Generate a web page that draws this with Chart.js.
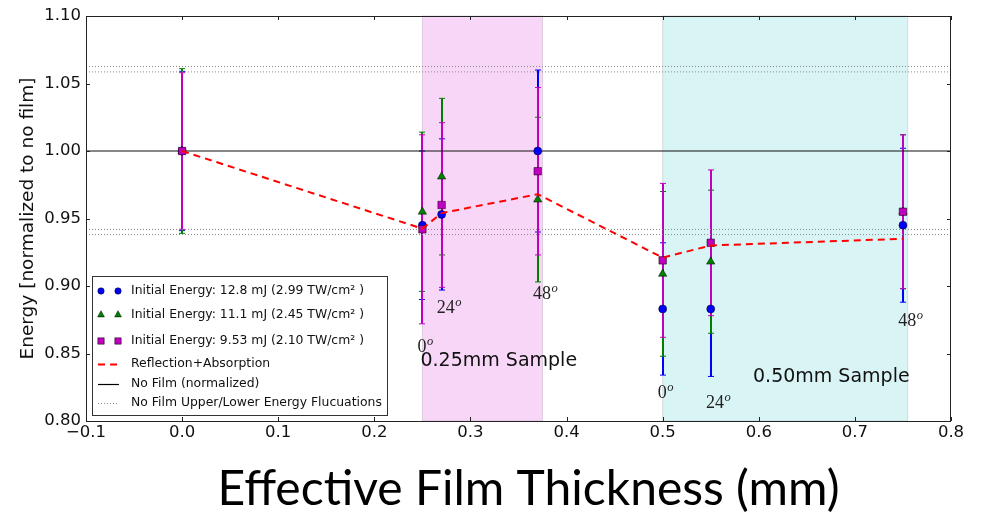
<!DOCTYPE html>
<html>
<head>
<meta charset="utf-8">
<script src="https://cdn.jsdelivr.net/npm/chart.js@4.4.1/dist/chart.umd.min.js"></script>
<style>
  html, body { margin: 0; background: #fff; }
  canvas { display: block; }
</style>
</head>
<body>
<canvas id="energyChart" width="986" height="513"></canvas>
<script>
// Effective film thickness (mm) of each shot
const thickness = [0, 0.25, 0.27, 0.37, 0.5, 0.55, 0.75];

// Normalized transmitted energy and its error for each initial energy
const energyHigh = [1.000, 0.945, 0.953, 1.000, 0.883, 0.883, 0.945];
const errHigh    = [0.059, 0.055, 0.056, 0.060, 0.049, 0.050, 0.057];
const energyMid  = [1.000, 0.955, 0.981, 0.964, 0.909, 0.918, 0.955];
const errMid     = [0.061, 0.059, 0.058, 0.061, 0.061, 0.053, 0.057];
const energyLow  = [1.000, 0.942, 0.960, 0.985, 0.919, 0.932, 0.955];
const errLow     = [0.058, 0.070, 0.061, 0.062, 0.057, 0.054, 0.057];

// Reflection + absorption model
const reflAbs = [1.000, 0.9425, 0.954, 0.968, 0.921, 0.930, 0.935];

// No-film reference level and its upper/lower fluctuation bands
const noFilm = 1.0;
const noFilmBounds = [1.0626, 1.0586, 0.9419, 0.9381];

// Sample regions
const sampleSpans = [[0.25, 0.375], [0.5, 0.755]];
const sampleNames = ['0.25mm Sample', '0.50mm Sample'];
const sampleNamePos = [[0.248, 0.841], [0.594, 0.829]];

// Incidence angle annotations (degrees)
const angleLabels = ['0', '24', '48', '0', '24', '48'];
const anglePos = [[0.245, 0.851], [0.265, 0.880], [0.365, 0.8907],
                  [0.495, 0.8167], [0.545, 0.810], [0.745, 0.8707]];

// Axis ticks
const xTicks = [-0.1, 0, 0.1, 0.2, 0.3, 0.4, 0.5, 0.6, 0.7, 0.8];
const xTickLabels = ['\u22120.1', '0.0', '0.1', '0.2', '0.3', '0.4', '0.5', '0.6', '0.7', '0.8'];
const yTicks = [0.80, 0.85, 0.90, 0.95, 1.00, 1.05, 1.10];
const yTickLabels = ['0.80', '0.85', '0.90', '0.95', '1.00', '1.05', '1.10'];

const seriesNames = [
    'Initial Energy: 12.8 mJ (2.99 TW/cm\u00b2 )',
    'Initial Energy: 11.1 mJ (2.45 TW/cm\u00b2 )',
    'Initial Energy: 9.53 mJ (2.10 TW/cm\u00b2 )',
    'Reflection+Absorption',
    'No Film (normalized)',
    'No Film Upper/Lower Energy Flucuations'
];

const BLUE = '#0000ff';
const GREEN = '#007f00';
const MAGENTA = '#bf00bf';
const RED = '#ff0000';
const SANS = '"DejaVu Sans", sans-serif';

const toPoints = (ys) => thickness.map((x, i) => ({ x: x, y: ys[i] }));
const hline = (v) => [{ x: -0.1, y: v }, { x: 0.8, y: v }];

// Shaded sample regions + error bars, drawn under the datasets
const underlay = {
    id: 'underlay',
    beforeDatasetsDraw(chart) {
        const { ctx, chartArea: ca, scales: { x, y } } = chart;
        ctx.save();
        const fills = ['rgba(204, 0, 204, 0.16)', 'rgba(0, 178, 187, 0.15)'];
        sampleSpans.forEach(([a, b], i) => {
            const l = x.getPixelForValue(a), r = x.getPixelForValue(b);
            ctx.fillStyle = fills[i];
            ctx.fillRect(l, ca.top, r - l, ca.bottom - ca.top);
            ctx.strokeStyle = 'rgba(0,0,0,0.12)';
            ctx.lineWidth = 1;
            ctx.strokeRect(l, ca.top, r - l, ca.bottom - ca.top);
        });

        const sets = [[energyHigh, errHigh, BLUE], [energyMid, errMid, GREEN], [energyLow, errLow, MAGENTA]];
        sets.forEach(([vals, errs, color]) => {
            ctx.strokeStyle = color;
            thickness.forEach((t, i) => {
                const px = Math.round(x.getPixelForValue(t));
                const top = y.getPixelForValue(vals[i] + errs[i]);
                const bot = y.getPixelForValue(vals[i] - errs[i]);
                ctx.lineWidth = 2;
                ctx.beginPath();
                ctx.moveTo(px, top);
                ctx.lineTo(px, bot);
                ctx.stroke();
                ctx.lineWidth = 1;
                ctx.beginPath();
                ctx.moveTo(px - 3, top); ctx.lineTo(px + 3, top);
                ctx.moveTo(px - 3, bot); ctx.lineTo(px + 3, bot);
                ctx.stroke();
            });
        });
        ctx.restore();
    }
};

function drawMarker(ctx, style, cx, cy, color) {
    ctx.fillStyle = color;
    ctx.strokeStyle = '#000';
    ctx.lineWidth = 0.5;
    ctx.beginPath();
    if (style === 'circle') {
        ctx.arc(cx, cy, 3.2, 0, Math.PI * 2);
    } else if (style === 'triangle') {
        ctx.moveTo(cx, cy - 3.6);
        ctx.lineTo(cx + 3.4, cy + 2.6);
        ctx.lineTo(cx - 3.4, cy + 2.6);
        ctx.closePath();
    } else {
        ctx.rect(cx - 3.2, cy - 3.2, 6.4, 6.4);
    }
    ctx.fill();
    ctx.stroke();
}

// Frame, inward ticks, annotations and legend
const overlay = {
    id: 'overlay',
    afterDatasetsDraw(chart) {
        const { ctx, chartArea: ca, scales: { x, y } } = chart;
        ctx.save();

        // text annotations
        ctx.fillStyle = '#222';
        ctx.textBaseline = 'alphabetic';
        ctx.textAlign = 'left';
        anglePos.forEach(([ax, ay], i) => {
            const px = x.getPixelForValue(ax), py = y.getPixelForValue(ay);
            ctx.font = '18px "Liberation Serif", serif';
            ctx.fillText(angleLabels[i], px, py);
            const w = ctx.measureText(angleLabels[i]).width;
            ctx.font = 'italic 12.5px "Liberation Serif", serif';
            ctx.fillText('o', px + w + 0.5, py - 7);
        });
        ctx.fillStyle = '#111';
        ctx.font = '19px ' + SANS;
        sampleNamePos.forEach(([sx, sy], i) => {
            ctx.fillText(sampleNames[i], x.getPixelForValue(sx), y.getPixelForValue(sy));
        });

        // axes frame
        ctx.strokeStyle = '#222';
        ctx.lineWidth = 1;
        ctx.strokeRect(ca.left + 0.5, ca.top + 0.5, ca.right - ca.left - 1, ca.bottom - ca.top);

        // inward tick marks on all four sides
        ctx.beginPath();
        xTicks.forEach(v => {
            const px = Math.round(x.getPixelForValue(v)) + 0.5;
            ctx.moveTo(px, ca.bottom); ctx.lineTo(px, ca.bottom - 4);
            ctx.moveTo(px, ca.top); ctx.lineTo(px, ca.top + 4);
        });
        yTicks.forEach(v => {
            const py = Math.round(y.getPixelForValue(v)) + 0.5;
            ctx.moveTo(ca.left, py); ctx.lineTo(ca.left + 4, py);
            ctx.moveTo(ca.right, py); ctx.lineTo(ca.right - 4, py);
        });
        ctx.stroke();

        // legend box, lower left of the plot
        const bx = ca.left + 6, bw = 295, bh = 139;
        const by = ca.bottom - 6 - bh;
        ctx.fillStyle = '#fff';
        ctx.fillRect(bx, by, bw, bh);
        ctx.strokeStyle = '#333';
        ctx.strokeRect(bx + 0.5, by + 0.5, bw, bh);

        const rows = [15, 38.3, 65, 87.6, 107.6, 127];
        const markers = [['circle', BLUE], ['triangle', GREEN], ['rect', MAGENTA]];
        ctx.textBaseline = 'middle';
        ctx.font = '12.4px ' + SANS;
        rows.forEach((ry, i) => {
            const cy = by + ry;
            if (i < 3) {
                drawMarker(ctx, markers[i][0], bx + 9, cy, markers[i][1]);
                drawMarker(ctx, markers[i][0], bx + 26, cy, markers[i][1]);
            } else {
                ctx.beginPath();
                if (i === 3) { ctx.strokeStyle = RED; ctx.lineWidth = 2; ctx.setLineDash([7, 5]); }
                if (i === 4) { ctx.strokeStyle = '#000'; ctx.lineWidth = 1.2; ctx.setLineDash([]); }
                if (i === 5) { ctx.strokeStyle = '#888'; ctx.lineWidth = 1; ctx.setLineDash([1, 2]); }
                ctx.moveTo(bx + 6, Math.round(cy) + 0.5);
                ctx.lineTo(bx + 27, Math.round(cy) + 0.5);
                ctx.stroke();
                ctx.setLineDash([]);
            }
            ctx.fillStyle = '#111';
            ctx.fillText(seriesNames[i], bx + 39, cy);
        });
        ctx.restore();
    },
    afterDraw(chart) {
        const { ctx, chartArea: ca } = chart;
        ctx.save();
        ctx.fillStyle = '#000';
        ctx.font = '48px Lato, "Open Sans", sans-serif';
        ctx.textAlign = 'center';
        ctx.textBaseline = 'alphabetic';
        ctx.fillText('Effective Film Thickness (mm)', (ca.left + ca.right) / 2 + 10, 505);
        ctx.restore();
    }
};

const refLine = (v, color, width, dash) => ({
    data: hline(v),
    showLine: true,
    borderColor: color,
    borderWidth: width,
    borderDash: dash,
    pointRadius: 0,
    order: 6
});

new Chart(document.getElementById('energyChart'), {
    type: 'scatter',
    data: {
        datasets: [
            ...noFilmBounds.map(v => refLine(v, '#888', 1, [1, 2])),
            refLine(noFilm, '#111', 1.2, []),
            {
                label: seriesNames[0],
                data: toPoints(energyHigh),
                pointStyle: 'circle',
                pointRadius: 4,
                backgroundColor: BLUE,
                borderColor: '#000',
                borderWidth: 0.5,
                order: 4
            },
            {
                label: seriesNames[1],
                data: toPoints(energyMid),
                pointStyle: 'triangle',
                pointRadius: 4.8,
                backgroundColor: GREEN,
                borderColor: '#000',
                borderWidth: 0.5,
                order: 3
            },
            {
                label: seriesNames[2],
                data: toPoints(energyLow),
                pointStyle: 'rect',
                pointRadius: 5.3,
                backgroundColor: MAGENTA,
                borderColor: '#000',
                borderWidth: 0.5,
                order: 2
            },
            {
                label: seriesNames[3],
                data: toPoints(reflAbs),
                showLine: true,
                borderColor: RED,
                borderWidth: 2,
                borderDash: [7, 5],
                pointRadius: 0,
                order: 1
            }
        ]
    },
    options: {
        responsive: false,
        animation: false,
        devicePixelRatio: 1,
        layout: { padding: { top: 16, right: 35, left: 0, bottom: 0 } },
        plugins: {
            legend: { display: false },
            tooltip: { enabled: false }
        },
        scales: {
            x: {
                type: 'linear',
                min: -0.1,
                max: 0.8,
                grid: { display: false, drawTicks: false },
                border: { display: false },
                afterBuildTicks: (scale) => { scale.ticks = xTicks.map(v => ({ value: v })); },
                afterFit: (scale) => { scale.height = 92; },
                ticks: {
                    autoSkip: false,
                    maxRotation: 0,
                    padding: 2,
                    color: '#111',
                    font: { family: SANS, size: 16.5 },
                    callback: (v, i) => xTickLabels[i]
                }
            },
            y: {
                type: 'linear',
                min: 0.8,
                max: 1.1,
                grid: { display: false, drawTicks: false },
                border: { display: false },
                afterBuildTicks: (scale) => { scale.ticks = yTicks.map(v => ({ value: v })); },
                afterFit: (scale) => { scale.width = 86; },
                title: {
                    display: true,
                    text: 'Energy [normalized to no film]',
                    color: '#111',
                    font: { family: SANS, size: 18.5 },
                    padding: { top: 17, bottom: 0 }
                },
                ticks: {
                    padding: 5,
                    color: '#111',
                    font: { family: SANS, size: 16.5 },
                    callback: (v, i) => yTickLabels[i]
                }
            }
        }
    },
    plugins: [underlay, overlay]
});
</script>
</body>
</html>
